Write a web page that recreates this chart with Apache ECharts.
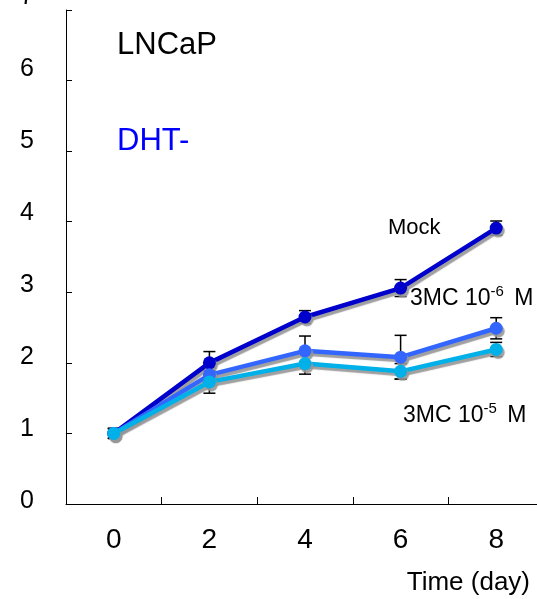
<!DOCTYPE html>
<html>
<head>
<meta charset="utf-8">
<script src="https://cdn.jsdelivr.net/npm/echarts@6/dist/echarts.min.js"></script>
<style>html,body{margin:0;padding:0;background:#fff}#c{width:537px;height:599px}</style>
</head>
<body>
<div id="c"></div>
<script>
var days = [0, 2, 4, 6, 8];
var xTickLabels = [0, 2, 4, 6, 8];
var xTickMarks = [1, 3, 5, 7];
var yTickLabels = [0, 1, 2, 3, 4, 5, 6, 7];
var mockVals = [1.00, 2.00, 2.65, 3.06, 3.91];
var mockErr  = [0.07, 0.16, 0.09, 0.12, 0.10];
var m6Vals   = [1.00, 1.83, 2.17, 2.08, 2.49];
var m6Err    = [0.07, 0.10, 0.21, 0.31, 0.15];
var m5Vals   = [1.00, 1.73, 1.99, 1.88, 2.19];
var m5Err    = [0.07, 0.16, 0.15, 0.11, 0.10];

var FONT = 'Liberation Sans, Arial, sans-serif';
var colors = {mock: '#0000cc', m6: '#3366ff', m5: '#00b0e8'};

function pairs(vals) { return days.map(function (d, i) { return [d, vals[i]]; }); }
function errData(vals, errs) { return days.map(function (d, i) { return [d, vals[i] - errs[i], vals[i] + errs[i]]; }); }

function errRender(params, api) {
  var x = api.value(0);
  var lo = api.coord([x, api.value(1)]);
  var hi = api.coord([x, api.value(2)]);
  var hw = 6;
  var st = {stroke: '#000', lineWidth: 1.5};
  return {type: 'group', children: [
    {type: 'line', shape: {x1: lo[0], y1: lo[1], x2: hi[0], y2: hi[1]}, style: st},
    {type: 'line', shape: {x1: lo[0] - hw, y1: lo[1], x2: lo[0] + hw, y2: lo[1]}, style: st},
    {type: 'line', shape: {x1: hi[0] - hw, y1: hi[1], x2: hi[0] + hw, y2: hi[1]}, style: st}
  ]};
}

function lineSeries(name, vals, color, z) {
  return {
    name: name, type: 'line', data: pairs(vals), z: z,
    symbol: 'circle', symbolSize: 13,
    lineStyle: {color: color, width: 4.5, shadowColor: 'rgba(150,150,150,0.9)', shadowOffsetX: 2, shadowOffsetY: 3, shadowBlur: 1},
    itemStyle: {color: color, shadowColor: 'rgba(150,150,150,0.9)', shadowOffsetX: 2, shadowOffsetY: 3, shadowBlur: 1},
    animation: false
  };
}
function errSeries(vals, errs) {
  return {type: 'custom', renderItem: errRender, data: errData(vals, errs), z: 1, animation: false};
}

var chart = echarts.init(document.getElementById('c'));
chart.setOption({
  backgroundColor: '#fff',
  animation: false,
  grid: [
    {left: 66, top: 10, width: 478, height: 494, outerBoundsMode: 'none', containLabel: false},
    {left: 66, top: -3, width: 478, height: 504, outerBoundsMode: 'none', containLabel: false}
  ],
  xAxis: [
    {type: 'value', gridIndex: 0, min: -1, max: 9,
     axisLine: {show: true, onZero: false, lineStyle: {color: '#000', width: 1}},
     axisTick: {show: true, inside: true, length: 7, customValues: xTickMarks, lineStyle: {color: '#000'}},
     axisLabel: {show: true, customValues: xTickLabels, fontSize: 28, color: '#000', fontFamily: FONT, margin: 22},
     splitLine: {show: false}},
    {type: 'value', gridIndex: 1, min: -1, max: 9, show: false}
  ],
  yAxis: [
    {type: 'value', gridIndex: 0, min: 0, max: 7, interval: 1,
     axisLine: {show: true, onZero: false, lineStyle: {color: '#000', width: 1}},
     axisTick: {show: true, inside: true, length: 6, lineStyle: {color: '#000'}},
     axisLabel: {show: false},
     splitLine: {show: false}},
    {type: 'value', gridIndex: 1, min: 0, max: 7, interval: 1,
     axisLine: {show: false, onZero: false}, axisTick: {show: false}, splitLine: {show: false},
     axisLabel: {show: true, fontSize: 25, color: '#000', fontFamily: FONT, margin: 32,
       customValues: yTickLabels, showMinLabel: true, showMaxLabel: true}}
  ],
  series: [
    errSeries(mockVals, mockErr),
    errSeries(m6Vals, m6Err),
    errSeries(m5Vals, m5Err),
    lineSeries('Mock', mockVals, colors.mock, 3),
    lineSeries('3MC 10-6 M', m6Vals, colors.m6, 4),
    lineSeries('3MC 10-5 M', m5Vals, colors.m5, 5)
  ],
  graphic: [
    {type: 'text', left: 117, top: 30, style: {text: 'LNCaP', fontSize: 31, fill: '#000', fontFamily: FONT}},
    {type: 'text', left: 117, top: 126, style: {text: 'DHT-', fontSize: 31, fill: '#0000ff', fontFamily: FONT}},
    {type: 'text', left: 388, top: 217, style: {text: 'Mock', fontSize: 22, fill: '#000', fontFamily: FONT}},
    {type: 'text', left: 410, top: 284, style: {
      text: '{a|3MC 10}{s|-6}{a| M}', fontFamily: FONT, fill: '#000',
      rich: {a: {fontSize: 23, fontFamily: FONT, fill: '#000'}, s: {fontSize: 15, fontFamily: FONT, fill: '#000', padding: [0, 4, 14, 0]}}}},
    {type: 'text', left: 403, top: 401, style: {
      text: '{a|3MC 10}{s|-5}{a| M}', fontFamily: FONT, fill: '#000',
      rich: {a: {fontSize: 23, fontFamily: FONT, fill: '#000'}, s: {fontSize: 15, fontFamily: FONT, fill: '#000', padding: [0, 4, 14, 0]}}}},
    {type: 'text', right: 7, top: 570, style: {text: 'Time (day)', fontSize: 26, fill: '#000', fontFamily: FONT}}
  ]
});
</script>
</body>
</html>
